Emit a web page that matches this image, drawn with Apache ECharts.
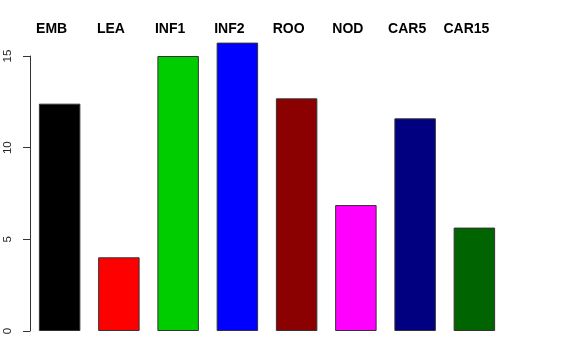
<!DOCTYPE html>
<html>
<head>
<meta charset="utf-8">
<script src="https://cdn.jsdelivr.net/npm/echarts@6/dist/echarts.min.js"></script>
<style>
html,body{margin:0;padding:0;background:#fff;}
#chart{width:576px;height:360px;}
</style>
</head>
<body>
<div id="chart"></div>
<script>
var categories = ["EMB", "LEA", "INF1", "INF2", "ROO", "NOD", "CAR5", "CAR15"];
var values = [12.4, 4.02, 15.0, 15.73, 12.69, 6.87, 11.6, 5.64];
var barColors = ["#000000", "#FF0000", "#00CD00", "#0000FF", "#8B0000", "#FF00FF", "#000080", "#006400"];
var yTicks = [0, 5, 10, 15];

var chart = echarts.init(document.getElementById('chart'), null, {renderer: 'canvas'});
chart.setOption({
  animation: false,
  backgroundColor: '#ffffff',
  grid: {left: 30, right: 72, top: 56, bottom: 29, containLabel: false},
  xAxis: {
    type: 'category',
    position: 'top',
    data: categories,
    axisLine: {show: false},
    axisTick: {show: false},
    axisLabel: {
      fontFamily: 'Liberation Sans, Arial, sans-serif',
      fontWeight: 'bold',
      fontSize: 14,
      color: '#000',
      margin: 20,
      padding: [0, 16, 0, 0],
      interval: 0
    }
  },
  yAxis: {
    type: 'value',
    min: yTicks[0],
    max: yTicks[yTicks.length - 1],
    interval: 5,
    splitLine: {show: false},
    axisLine: {show: true, lineStyle: {color: '#333', width: 1}},
    axisTick: {show: true, length: 7, lineStyle: {color: '#333'}},
    axisLabel: {
      rotate: 90,
      fontFamily: 'Liberation Sans, Arial, sans-serif',
      fontSize: 11.5,
      color: '#222',
      margin: 16
    }
  },
  series: [{
    type: 'bar',
    clip: false,
    barWidth: '70%',
    data: values.map(function (v, i) {
      return {value: v, itemStyle: {color: barColors[i]}};
    }),
    itemStyle: {borderColor: '#333', borderWidth: 1}
  }]
});
</script>
</body>
</html>
